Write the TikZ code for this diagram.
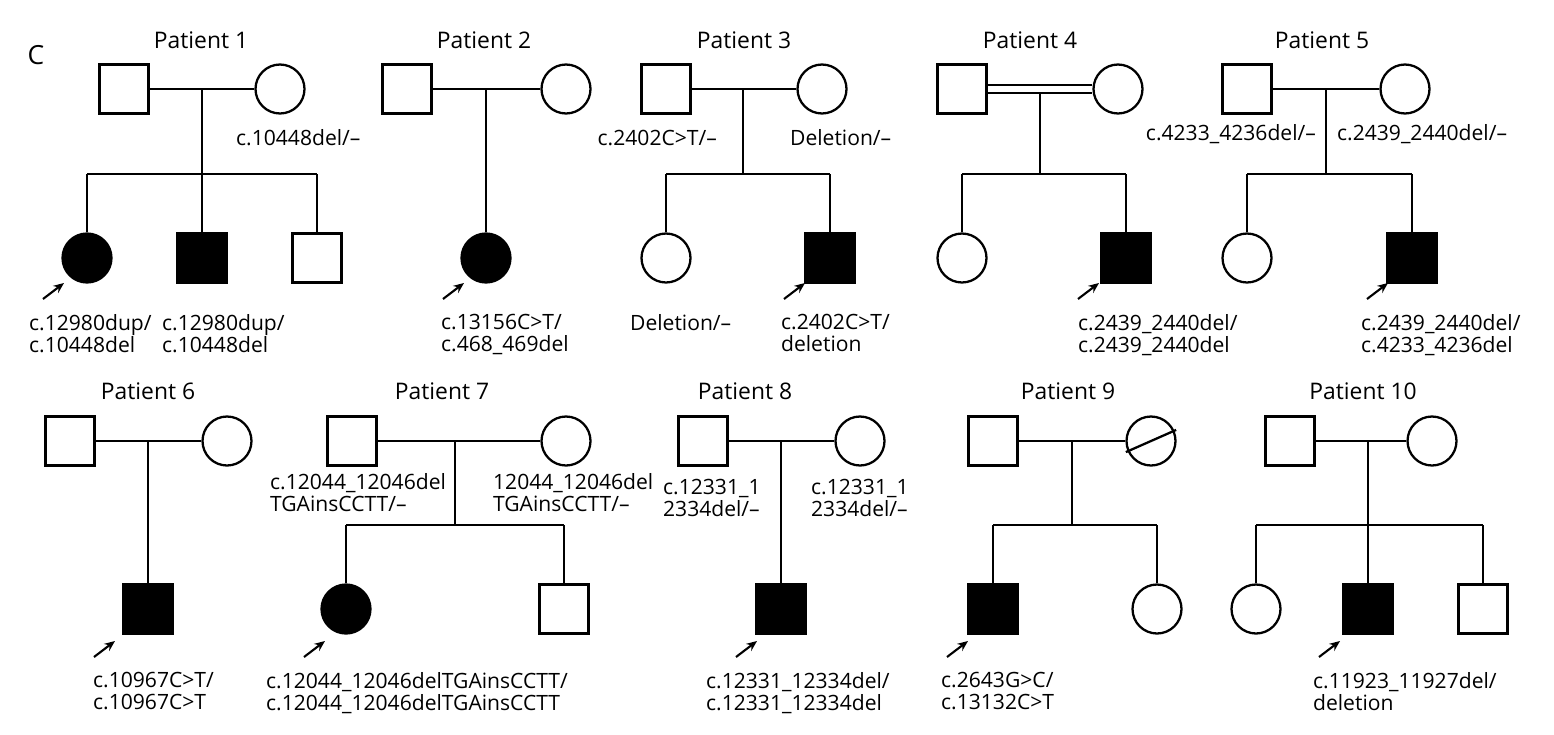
\documentclass[tikz,border=0pt]{standalone}
\usepackage{fontspec}
\setmainfont{Open Sans}
\usetikzlibrary{arrows.meta}
\begin{document}
\begin{tikzpicture}[x=0.02cm,y=-0.02cm,line width=1.3pt,
 m/.style={draw,minimum size=0.98cm,inner sep=0},
 f/.style={draw,circle,minimum size=0.98cm,inner sep=0},
 aff/.style={fill=black},
 ttl/.style={font=\fontsize{13}{15}\selectfont},
 lab/.style={font=\fontsize{12}{12.8}\selectfont,align=left,inner sep=0},
 pro/.style={-{Stealth[length=6pt,width=5pt]},line width=1.2pt}]
\useasboundingbox (0,0) rectangle (1554,734);
\node[font=\fontsize{15}{17}\selectfont] (C) at (36,55) {C};
% ---- Patient 1
\node[ttl] (t1) at (201,40) {Patient 1};
\node[m] (p1f) at (124,89) {}; \node[f] (p1m) at (280,89) {};
\draw (p1f) -- (p1m);
\coordinate (p1a) at (202,89); \coordinate (p1b) at (202,174);
\coordinate (p1l) at (87,174); \coordinate (p1r) at (317,174);
\node[f,aff] (p1c1) at (87,258) {}; \node[m,aff] (p1c2) at (202,258) {}; \node[m] (p1c3) at (317,258) {};
\draw (p1a) -- (p1b); \draw (p1l) -- (p1r);
\draw (p1l) -- (p1c1); \draw (p1b) -- (p1c2); \draw (p1r) -- (p1c3);
\node[lab,anchor=west] (l1m) at (235,138) {c.10448del/–};
\coordinate (a1s) at (43,299); \coordinate (a1e) at (64,283); \draw[pro] (a1s) -- (a1e);
\node[lab,anchor=north west] (l1a) at (28,313) {c.12980dup/\\c.10448del};
\node[lab,anchor=north west] (l1b) at (161,313) {c.12980dup/\\c.10448del};
% ---- Patient 2
\node[ttl] (t2) at (484,40) {Patient 2};
\node[m] (p2f) at (407,89) {}; \node[f] (p2m) at (566,89) {};
\draw (p2f) -- (p2m);
\coordinate (p2a) at (486,89);
\node[f,aff] (p2c1) at (486,258) {};
\draw (p2a) -- (p2c1);
\coordinate (a2s) at (443,299); \coordinate (a2e) at (464,283); \draw[pro] (a2s) -- (a2e);
\node[lab,anchor=north west] (l2a) at (440,313) {c.13156C>T/\\c.468\_469del};
% ---- Patient 3
\node[ttl] (t3) at (744,40) {Patient 3};
\node[m] (p3f) at (666,89) {}; \node[f] (p3m) at (822,89) {};
\draw (p3f) -- (p3m);
\coordinate (p3a) at (743,89); \coordinate (p3b) at (743,174);
\coordinate (p3l) at (666,174); \coordinate (p3r) at (830,174);
\node[f] (p3c1) at (666,258) {}; \node[m,aff] (p3c2) at (830,258) {};
\draw (p3a) -- (p3b); \draw (p3l) -- (p3r);
\draw (p3l) -- (p3c1); \draw (p3r) -- (p3c2);
\node[lab,anchor=east] (l3f) at (718,138) {c.2402C>T/–};
\node[lab,anchor=west] (l3m) at (789,138) {Deletion/–};
\node[lab,anchor=north west] (l3a) at (629,313) {Deletion/–};
\coordinate (a3s) at (784,299); \coordinate (a3e) at (805,283); \draw[pro] (a3s) -- (a3e);
\node[lab,anchor=north west] (l3b) at (780,313) {c.2402C>T/\\deletion};
% ---- Patient 4
\node[ttl] (t4) at (1030,40) {Patient 4};
\node[m] (p4f) at (962,89) {}; \node[f] (p4m) at (1118,89) {};
\draw ([yshift=2.3pt]p4f.east) -- ([yshift=2.3pt]p4m.west);
\draw ([yshift=-2.3pt]p4f.east) -- ([yshift=-2.3pt]p4m.west);
\coordinate (p4a) at (1040,93); \coordinate (p4b) at (1040,174);
\coordinate (p4l) at (962,174); \coordinate (p4r) at (1126,174);
\node[f] (p4c1) at (962,258) {}; \node[m,aff] (p4c2) at (1126,258) {};
\draw (p4a) -- (p4b); \draw (p4l) -- (p4r);
\draw (p4l) -- (p4c1); \draw (p4r) -- (p4c2);
\coordinate (a4s) at (1078,299); \coordinate (a4e) at (1099,283); \draw[pro] (a4s) -- (a4e);
\node[lab,anchor=north west] (l4a) at (1077,313) {c.2439\_2440del/\\c.2439\_2440del};
% ---- Patient 5
\node[ttl] (t5) at (1322,40) {Patient 5};
\node[m] (p5f) at (1247,89) {}; \node[f] (p5m) at (1405,89) {};
\draw (p5f) -- (p5m);
\coordinate (p5a) at (1326,89); \coordinate (p5b) at (1326,174);
\coordinate (p5l) at (1247,174); \coordinate (p5r) at (1412,174);
\node[f] (p5c1) at (1247,258) {}; \node[m,aff] (p5c2) at (1412,258) {};
\draw (p5a) -- (p5b); \draw (p5l) -- (p5r);
\draw (p5l) -- (p5c1); \draw (p5r) -- (p5c2);
\node[lab,anchor=east] (l5f) at (1317,134) {c.4233\_4236del/–};
\node[lab,anchor=west] (l5m) at (1336,134) {c.2439\_2440del/–};
\coordinate (a5s) at (1367,299); \coordinate (a5e) at (1388,283); \draw[pro] (a5s) -- (a5e);
\node[lab,anchor=north west] (l5a) at (1360,313) {c.2439\_2440del/\\c.4233\_4236del};
% ---- Patient 6
\node[ttl] (t6) at (148,391) {Patient 6};
\node[m] (p6f) at (70,441) {}; \node[f] (p6m) at (227,441) {};
\draw (p6f) -- (p6m);
\coordinate (p6a) at (148,441);
\node[m,aff] (p6c1) at (148,609) {};
\draw (p6a) -- (p6c1);
\coordinate (a6s) at (94,657); \coordinate (a6e) at (115,641); \draw[pro] (a6s) -- (a6e);
\node[lab,anchor=north west] (l6a) at (92,671) {c.10967C>T/\\c.10967C>T};
% ---- Patient 7
\node[ttl] (t7) at (442,391) {Patient 7};
\node[m] (p7f) at (352,441) {}; \node[f] (p7m) at (566,441) {};
\draw (p7f) -- (p7m);
\coordinate (p7a) at (455,441); \coordinate (p7b) at (455,525);
\coordinate (p7l) at (346,525); \coordinate (p7r) at (564,525);
\node[f,aff] (p7c1) at (346,609) {}; \node[m] (p7c2) at (564,609) {};
\draw (p7a) -- (p7b); \draw (p7l) -- (p7r);
\draw (p7l) -- (p7c1); \draw (p7r) -- (p7c2);
\node[lab,anchor=north west] (l7f) at (269,472) {c.12044\_12046del\\TGAinsCCTT/–};
\node[lab,anchor=north west] (l7m) at (492,472) {12044\_12046del\\TGAinsCCTT/–};
\coordinate (a7s) at (304,657); \coordinate (a7e) at (325,641); \draw[pro] (a7s) -- (a7e);
\node[lab,anchor=north west] (l7a) at (265,671) {c.12044\_12046delTGAinsCCTT/\\c.12044\_12046delTGAinsCCTT};
% ---- Patient 8
\node[ttl] (t8) at (745,391) {Patient 8};
\node[m] (p8f) at (703,441) {}; \node[f] (p8m) at (860,441) {};
\draw (p8f) -- (p8m);
\coordinate (p8a) at (781,441);
\node[m,aff] (p8c1) at (781,609) {};
\draw (p8a) -- (p8c1);
\node[lab,anchor=north west] (l8f) at (662,478) {c.12331\_1\\2334del/–};
\node[lab,anchor=north west] (l8m) at (810,478) {c.12331\_1\\2334del/–};
\coordinate (a8s) at (736,657); \coordinate (a8e) at (757,641); \draw[pro] (a8s) -- (a8e);
\node[lab,anchor=north west] (l8a) at (705,671) {c.12331\_12334del/\\c.12331\_12334del};
% ---- Patient 9
\node[ttl] (t9) at (1068,391) {Patient 9};
\node[m] (p9f) at (993,441) {}; \node[f] (p9m) at (1151,441) {};
\path (p9m.north east) ++(4pt,-4pt) coordinate (p9s1);
\path (p9m.south west) ++(-4pt,4pt) coordinate (p9s2);
\draw (p9s1) -- (p9s2);
\draw (p9f) -- (p9m);
\coordinate (p9a) at (1072,441); \coordinate (p9b) at (1072,525);
\coordinate (p9l) at (993,525); \coordinate (p9r) at (1157,525);
\node[m,aff] (p9c1) at (993,609) {}; \node[f] (p9c2) at (1157,609) {};
\draw (p9a) -- (p9b); \draw (p9l) -- (p9r);
\draw (p9l) -- (p9c1); \draw (p9r) -- (p9c2);
\coordinate (a9s) at (947,657); \coordinate (a9e) at (968,641); \draw[pro] (a9s) -- (a9e);
\node[lab,anchor=north west] (l9a) at (940,671) {c.2643G>C/\\c.13132C>T};
% ---- Patient 10
\node[ttl] (t10) at (1363,391) {Patient 10};
\node[m] (p10f) at (1290,441) {}; \node[f] (p10m) at (1432,441) {};
\draw (p10f) -- (p10m);
\coordinate (p10a) at (1368,441); \coordinate (p10b) at (1368,525);
\coordinate (p10l) at (1256,525); \coordinate (p10r) at (1483,525);
\node[f] (p10c1) at (1256,609) {}; \node[m,aff] (p10c2) at (1368,609) {}; \node[m] (p10c3) at (1483,609) {};
\draw (p10a) -- (p10b); \draw (p10l) -- (p10r);
\draw (p10l) -- (p10c1); \draw (p10b) -- (p10c2); \draw (p10r) -- (p10c3);
\coordinate (a10s) at (1319,657); \coordinate (a10e) at (1340,641); \draw[pro] (a10s) -- (a10e);
\node[lab,anchor=north west] (l10a) at (1312,671) {c.11923\_11927del/\\deletion};
\end{tikzpicture}
\end{document}
